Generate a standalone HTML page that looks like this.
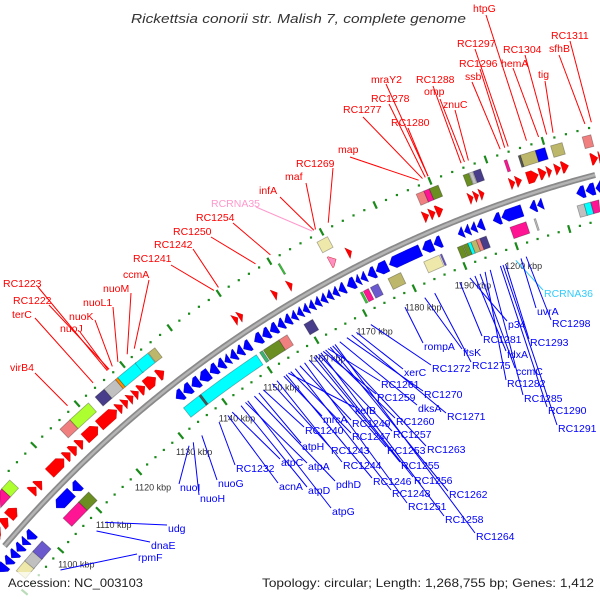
<!DOCTYPE html>
<html><head><meta charset="utf-8"><title>Rickettsia conorii genome map</title>
<style>
html,body{margin:0;padding:0;background:#fff;width:600px;height:600px;overflow:hidden;}
svg{display:block;font-family:"Liberation Sans","DejaVu Sans",sans-serif;width:600px;height:600px;}
</style></head>
<body>
<svg id="map" width="600" height="600" viewBox="0 0 600 600" xmlns="http://www.w3.org/2000/svg" overflow="hidden">
<rect x="0" y="0" width="600" height="600" fill="#fff"/>
<g id="rings"></g>
<g id="feats"></g>
<g id="labels"></g>
<rect x="0" y="572" width="600" height="28" fill="#fff" opacity="0.7"/>
<text x="131" y="23" font-size="13" font-style="italic" fill="#333" textLength="335" lengthAdjust="spacingAndGlyphs">Rickettsia conorii str. Malish 7, complete genome</text>
<text x="8" y="587" font-size="12" fill="#222" textLength="135" lengthAdjust="spacingAndGlyphs">Accession: NC_003103</text>
<text x="262" y="587" font-size="12" fill="#222" textLength="332" lengthAdjust="spacingAndGlyphs">Topology: circular; Length: 1,268,755 bp; Genes: 1,412</text>
</svg>
<script>
const genomeLength = 1268.755;
// forward strand genes (kbp)
const fwdStart = [1092,1094,1096.3,1098.3,1104,1105.4,1108.5,1112.3,1113.7,1115.3,1117,1120.3,1124.5,1125.8,1127,1128.2,1129.4,1130.8,1133.5,1149.6,1150.6,1157.6,1160.6,1168.8,1172.2,1186.6,1187.8,1189,1195,1196,1197,1202.5,1203.6,1205.6,1207.8,1209.2,1210.6,1211.8,1217,1218.4];
const fwdEnd   = [1093.8,1096,1098,1100.3,1105.2,1106.6,1112,1113.5,1115,1116.5,1120,1124.3,1125.6,1126.8,1128,1129.2,1130.6,1133,1134.8,1150.4,1151.4,1158.4,1161.4,1170,1173,1187.6,1188.8,1190.2,1195.8,1196.8,1197.8,1203.4,1204.6,1207.6,1209,1210,1211.6,1213,1218.2,1219.5];
const fwdType  = ["g","g","g","g","g","g","g","g","g","g","g","g","g","g","g","g","g","g","g","g","g","g","g","r","g","g","g","g","g","g","g","g","g","g","g","g","g","g","g","g"];
// reverse strand genes (kbp)
const revStart = [1090,1091.7,1093.2,1094.7,1096.2,1097.5,1105,1109.2,1133.5,1135.2,1137,1138.8,1141,1142.7,1144.2,1145.4,1146.8,1148.2,1150.5,1152.2,1153.8,1155.4,1156.8,1158.2,1159.4,1160.6,1161.8,1163,1164.2,1165.4,1166.6,1167.8,1169.5,1171.2,1172.2,1173.6,1175.2,1177.8,1184.2,1186.4,1191,1192.2,1193.4,1194.6,1197.6,1199.2,1204.4,1205.8,1213,1214.7,1216.5];
const revEnd   = [1091.5,1093,1094.5,1096,1097.3,1099,1108.8,1110.8,1135,1136.8,1138.6,1140.8,1142.5,1144,1145.2,1146.6,1148,1149.6,1152,1153.6,1155.2,1156.6,1158,1159.2,1160.4,1161.6,1162.8,1164,1165.2,1166.4,1167.6,1169,1171,1172,1173.2,1175,1177.4,1183.8,1186.2,1187.8,1192,1193.2,1194.4,1195.8,1199,1203,1205.6,1206.8,1214.5,1216.3,1218];
// COG category boxes
const cogFwdStart = [1098.5,1101,1115,1117.3,1123,1125,1127.5,1128,1131.8,1134.6,1161,1168.5,1187,1188.4,1189.4,1195.5,1196.6,1197.3,1202.8,1205.3,1205.7,1208.3,1211,1216.5];
const cogFwdEnd   = [1101,1103,1117.3,1121.5,1125,1127.5,1128,1132,1134.5,1136,1161.3,1170.5,1188.4,1189.4,1191,1196.5,1197.2,1198.6,1203.3,1205.7,1208.3,1210,1213,1218];
const cogFwdCat   = ["L","G","S","G","N","X","O","C","C","K","A","Y","S","L","V","V","X","N","L","D","K","B","K","S"];
const cogRevStart = [1092,1094.3,1096.5,1104.5,1108.5,1133.5,1137,1137.4,1150.2,1151,1154.3,1159.5,1171,1171.6,1173,1176.5,1183.5,1186.7,1190,1191.1,1192,1192.6,1193.6,1194.3,1200,1204.5,1212.5,1213.8,1215];
const cogRevEnd   = [1094.5,1096.8,1099,1108.5,1111,1137,1137.4,1149.5,1150.8,1154.3,1156,1161.3,1171.4,1172.6,1174.5,1179,1186.5,1187,1191,1192,1192.6,1193.6,1194.3,1195.5,1203,1204.8,1213.8,1215,1216.5];
const cogRevCat   = ["Y","X","P","L","V","C","D","C","M","V","S","N","A","L","P","K","Y","P","V","V","C","K","S","N","L","X","X","C","L"];
const cogColor = {L:"#ff1493",G:"#adff2f",S:"#f08080",N:"#483d8b",X:"#c0c0c0",O:"#ff8c00",C:"#00ffff",K:"#bdb76b",A:"#32cd32",Y:"#eee8aa",V:"#6b8e23",D:"#555555",B:"#0000ff",P:"#6a5acd",M:"#3cb371"};
// ticks
const tickKbp = [1100,1110,1120,1130,1140,1150,1160,1170,1180,1190,1200];
const tickText = ["1100 kbp","1110 kbp","1120 kbp","1130 kbp","1140 kbp","1150 kbp","1160 kbp","1170 kbp","1180 kbp","1190 kbp","1200 kbp"];
// outer (forward) labels: name, leader target kbp
const fwdLabelText = ["RC1223","RC1222","terC","nuoJ","nuoK","nuoL1","nuoM","ccmA","virB4","RC1241","RC1242","RC1250","RC1254","RCRNA35","infA","maf","RC1269","map","RC1277","RC1278","mraY2","RC1280","RC1288","omp","znuC","RC1297","RC1296","ssb","htpG","RC1304","hemA","tig","RC1311","sfhB"];
const fwdLabelKbp  = [1127.4,1127.8,1124.3,1127.6,1128.5,1129.7,1131.7,1133.2,1118.6,1149.6,1150.5,1157.8,1160.7,1168.7,1169,1169.3,1171.7,1188.3,1189,1189.5,1190,1190,1195.9,1196.5,1197.2,1204.2,1203.6,1202.8,1207.4,1210.9,1209.5,1212,1218.6,1217.5];
// inner (reverse) labels
const revLabelText = ["rpmF","dnaE","udg","nuoI","nuoH","nuoG","RC1232","acnA","atpC","atpD","atpA","atpG","pdhD","atpH","RC1240","RC1243","RC1244","mrcA","kefB","RC1246","RC1247","RC1248","RC1249","RC1251","RC1253","RC1255","RC1256","RC1257","RC1258","RC1259","RC1260","RC1261","RC1262","RC1263","RC1264","dksA","RC1270","RC1271","xerC","RC1272","rompA","ftsK","RC1275","RC1281","p34","fdxA","ccmC","RC1282","RC1285","RC1290","RC1291","RC1293","RCRNA36","uvrA","RC1298"];
const revLabelKbp  = [1097.3,1107,1109.2,1130,1131,1133,1137,1139,1140,1142,1143,1143.5,1145,1146,1147,1149,1150,1151.5,1152.5,1152,1153,1154,1155,1156,1157,1158,1158.5,1159,1159.5,1160,1160.5,1161,1161.5,1162,1162.5,1163.5,1165,1166,1167,1170,1177,1181,1183,1188,1190,1191,1192,1193,1194,1196,1196.5,1197,1199,1200,1201];

// ---- layout (positions of label text) ----
const CX = 890, CY = 1300;
const fwdLabelPos = [[3,283,38,287],[13,300,49,305],[12,314,35,318],[60,328,80,332],[69,316,95,320],[83,302,113,307],[103,288,131,293],[123,274,149,280],[10,367,35,373],[133,258,171,265],[154,244,193,249],[173,231,211,237],[196,217,233,223],[211,203,256,207],[259,190,280,197],[285,176,306,183],[296,163,333,168],[338,149,350,157],[343,109,363,117],[371,98,389,104],[371,79,386,84],[391,122,408,128],[416,79,433,86],[424,91,440,99],[443,104,455,110],[457,43,475,49],[459,63,480,69],[465,76,472,82],[473,8,486,15],[503,49,525,55],[501,63,513,68],[538,74,545,81],[551,35,570,41],[549,48,559,55]];
const revLabelPos = [[138,557],[151,545],[168,528],[180,487],[200,498],[218,483],[236,468],[279,486],[281,462],[308,490],[308,466],[332,511],[336,484],[302,446],[305,430],[331,450],[343,465],[323,419],[355,410],[373,481],[352,436],[392,493],[352,423],[408,506],[387,450],[401,465],[414,480],[393,434],[445,519],[377,397],[396,421],[381,384],[449,494],[427,449],[476,536],[418,408],[424,394],[447,416],[404,372],[432,368],[424,346],[463,352],[472,365],[483,339],[508,324],[507,354],[516,371],[507,383],[524,398],[548,410],[558,428],[530,342],[544,293],[537,311],[552,323]];

const NS = "http://www.w3.org/2000/svg";
function P(k, r){ const t = k/genomeLength*2*Math.PI; return [CX + r*Math.sin(t), CY - r*Math.cos(t)]; }
function arc(a, b, r){ const out=[]; const n=Math.max(2, Math.ceil(Math.abs(b-a)*2)); for(let i=0;i<=n;i++){ out.push(P(a+(b-a)*i/n, r)); } return out; }
function inside(p){ return p[0]>=0 && p[0]<=600 && p[1]>=0 && p[1]<=600; }
function cl(v){ return Math.max(0, Math.min(600, v)); }
function poly(pts){ return pts.map(p=>cl(p[0]).toFixed(2)+","+cl(p[1]).toFixed(2)).join(" "); }
function anyInside(pts){ return pts.some(inside); }
function mk(tag, attrs, parent){ const e=document.createElementNS(NS, tag); for(const k in attrs) e.setAttribute(k, attrs[k]); parent.appendChild(e); return e; }

const rings = document.getElementById("rings");
const feats = document.getElementById("feats");
const labs = document.getElementById("labels");

// backbone (visible part only)
const bb = arc(1080, 1230, 1163).filter(p => p[0]>=3 && p[0]<=597 && p[1]>=3 && p[1]<=597);
let e = mk("polyline", {points: poly(bb), fill:"none", stroke:"#8a8a8a", "stroke-width":"6"}, rings);


e = mk("polyline", {points: poly(bb), fill:"none", stroke:"#b4b4b4", "stroke-width":"2.5"}, rings);



// dotted rings
[1210, 1118].forEach(function(r){
  for(let k=1080;k<=1230;k+=2){
    if(k%10===0){
      const a=P(k,r-4), b=P(k,r+4);
      if(!inside(a) || !inside(b)) continue;
      const d = mk("line", {x1:a[0],y1:a[1],x2:b[0],y2:b[1],stroke:"#1a8a1a","stroke-width":"2.2"}, rings);
      
      
    } else {
      const p=P(k,r);
      if(p[0]<2 || p[0]>598 || p[1]<2 || p[1]>598) continue;
      const d = mk("rect", {x:p[0]-1.1,y:p[1]-1.1,width:2.2,height:2.2,fill:"#1a8a1a"}, rings);
      
      
    }
  }
});

// tick labels
for(let i=0;i<tickKbp.length;i++){
  const p = P(tickKbp[i], 1097);
  const t = mk("text", {x:p[0], y:p[1]+3, "font-size":"9", fill:"#333", "text-anchor":"middle"}, rings);
  t.textContent = tickText[i];
  
  
}

// forward genes
for(let i=0;i<fwdStart.length;i++){
  const a=fwdStart[i], b=fwdEnd[i], r1=1173, r2=1185, h=Math.min(1.0,b-a);
  const pts = arc(a,b-h,r2).concat([P(b,(r1+r2)/2)]).concat(arc(b-h,a,r1));
  if(!anyInside(pts)) continue;
  const g = mk("polygon", {points: poly(pts), fill: fwdType[i]==="r" ? "#ff8fc0" : "#ff0000", stroke:"#c00000","stroke-width":"0.4"}, feats);
  
  
}
// reverse genes
for(let i=0;i<revStart.length;i++){
  const a=revStart[i], b=revEnd[i], r1=1144, r2=1156, h=Math.min(1.0,b-a);
  const pts = [P(a,(r1+r2)/2)].concat(arc(a+h,b,r2)).concat(arc(b,a+h,r1));
  if(!anyInside(pts)) continue;
  const g = mk("polygon", {points: poly(pts), fill:"#0000ff", stroke:"#0000b0","stroke-width":"0.4"}, feats);
  
  
}
// COG boxes
function cogBoxes(S,E,C,r1,r2,name){
  for(let i=0;i<S.length;i++){
    const pts = arc(S[i],E[i],r2).concat(arc(E[i],S[i],r1));
    if(!anyInside(pts)) continue;
    const g = mk("polygon", {points: poly(pts), fill:cogColor[C[i]], stroke:"rgba(0,0,0,0.3)","stroke-width":"0.8"}, feats);
    
    
  }
}
cogBoxes(cogFwdStart,cogFwdEnd,cogFwdCat,1191,1203,'cog-forward-box');
cogBoxes(cogRevStart,cogRevEnd,cogRevCat,1126,1138,'cog-reverse-box');

// forward labels
for(let i=0;i<fwdLabelText.length;i++){
  const L=fwdLabelPos[i], end=P(fwdLabelKbp[i],1215);
  const col = fwdLabelText[i]==="RCRNA35" ? "#ff99cc" : "#ff0000";
  const ln = mk("line", {x1:L[2],y1:L[3],x2:end[0],y2:end[1],stroke:col,"stroke-width":"1"}, labs);
  
  
  const t = mk("text", {x:L[0], y:L[1]+4, "font-size":"10.5", fill:col}, labs);
  t.textContent = fwdLabelText[i];
  
  
}
// reverse labels
for(let i=0;i<revLabelText.length;i++){
  const L=revLabelPos[i], st=P(revLabelKbp[i],1105);
  const col = revLabelText[i]==="RCRNA36" ? "#33ccff" : "#0000ff";
  const ln = mk("line", {x1:st[0],y1:st[1],x2:L[0]-1,y2:L[1]-3,stroke:col,"stroke-width":"1"}, labs);
  
  
  const t = mk("text", {x:L[0], y:L[1]+4, "font-size":"10.5", fill:col}, labs);
  t.textContent = revLabelText[i];
  
  
}
</script>
</body></html>
